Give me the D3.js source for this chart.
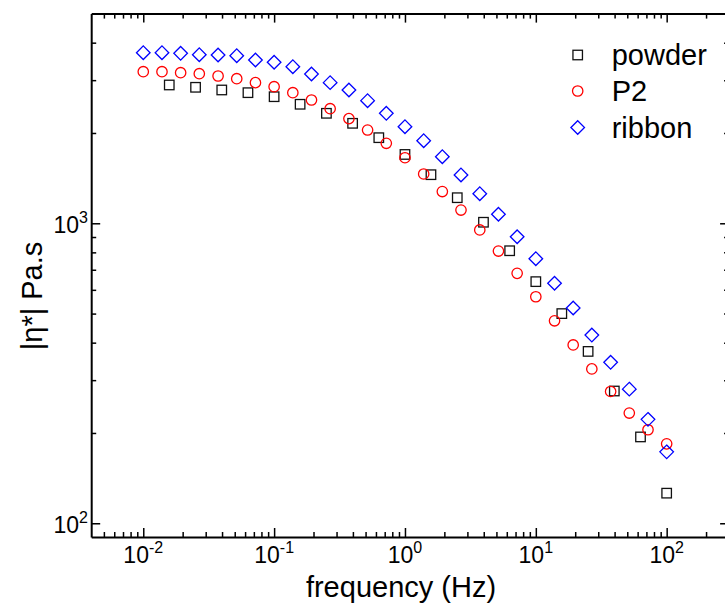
<!DOCTYPE html>
<html>
<head>
  <meta charset="utf-8">
  <script src="https://d3js.org/d3.v7.min.js"></script>
  <style>
    body { margin: 0; background: #fff; }
    svg { font-family: "Liberation Sans", Arial, sans-serif; }
  </style>
</head>
<body>
<div id="chart"></div>
<script>
  // frequencies (Hz) and |eta*| (Pa.s)
  var freqPowder = [0.0158, 0.0251, 0.0398, 0.0631, 0.1, 0.158, 0.251, 0.398, 0.631, 1,
                    1.58, 2.51, 3.98, 6.31, 10, 15.8, 25.1, 39.8, 63.1, 100];
  var etaPowder  = [2891, 2840, 2782, 2725, 2642, 2493, 2326, 2154, 1929, 1696,
                    1452, 1217, 1008, 810, 639, 500, 374, 276, 194, 126];

  var freqP2 = [0.01, 0.0139, 0.0193, 0.0268, 0.0373, 0.0518, 0.072, 0.1, 0.139, 0.193,
                0.268, 0.373, 0.518, 0.72, 1, 1.39, 1.93, 2.68, 3.73, 5.18,
                7.2, 10, 13.9, 19.3, 26.8, 37.3, 51.8, 72, 100];
  var etaP2  = [3201, 3201, 3177, 3152, 3097, 3034, 2943, 2853, 2725, 2576,
                2410, 2233, 2046, 1848, 1654, 1460, 1276, 1107, 950, 808,
                681, 569, 473, 393, 327, 275, 233, 205, 184];

  var freqRibbon = [0.01, 0.0139, 0.0193, 0.0268, 0.0373, 0.0518, 0.072, 0.1, 0.139, 0.193,
                    0.268, 0.373, 0.518, 0.72, 1, 1.39, 1.93, 2.68, 3.73, 5.18,
                    7.2, 10, 13.9, 19.3, 26.8, 37.3, 51.8, 72, 100];
  var etaRibbon  = [3704, 3704, 3687, 3648, 3639, 3620, 3502, 3441, 3327, 3145,
                    2943, 2782, 2563, 2326, 2099, 1885, 1667, 1449, 1255, 1072,
                    902, 762, 631, 522, 424, 344, 280, 222, 173];

  var seriesNames = ["powder", "P2", "ribbon"];
  var xMajor = [0.01, 0.1, 1, 10, 100];
  var xExp = ["-2", "-1", "0", "1", "2"];
  var yMajor = [100, 1000];
  var yExp = ["2", "3"];

  var W = 725, H = 606;
  var pLeft = 91.2, pRight = 729.1, pTop = 13.6, pBottom = 537;

  var svg = d3.select("#chart").append("svg")
    .attr("width", W).attr("height", H);

  var x = d3.scaleLog().domain([0.004, 300]).range([pLeft, pRight]);
  var y = d3.scaleLog().domain([90, 5000]).range([pBottom, pTop]);

  // minor ticks 2..9 per decade inside the domain
  function minors(dom) {
    var out = [];
    for (var e = -4; e <= 4; e++) {
      for (var m = 2; m <= 9; m++) {
        var v = m * Math.pow(10, e);
        if (v > dom[0] && v < dom[1]) out.push(v);
      }
    }
    return out;
  }
  var xMinor = minors(x.domain());
  var yMinor = minors(y.domain());

  function styleAxis(g, keepDomain) {
    g.selectAll(".tick text").remove();
    g.selectAll(".tick line").attr("stroke", "#000").attr("stroke-width", 1.5);
    if (keepDomain) g.select(".domain").attr("stroke", "#000").attr("stroke-width", 2);
    else g.select(".domain").remove();
  }

  function addAxis(axisFn, transform, scale, major, minor) {
    var gMaj = svg.append("g").attr("transform", transform)
      .call(axisFn(scale).tickValues(major).tickSizeInner(-9).tickSizeOuter(0));
    styleAxis(gMaj, true);
    var gMin = svg.append("g").attr("transform", transform)
      .call(axisFn(scale).tickValues(minor).tickSizeInner(-5).tickSizeOuter(0));
    styleAxis(gMin, false);
  }

  addAxis(d3.axisBottom, "translate(0," + pBottom + ")", x, xMajor, xMinor);
  addAxis(d3.axisTop, "translate(0," + pTop + ")", x, xMajor, xMinor);
  addAxis(d3.axisLeft, "translate(" + pLeft + ",0)", y, yMajor, yMinor);
  addAxis(d3.axisRight, "translate(" + pRight + ",0)", y, yMajor, yMinor);

  // tick labels with superscripts
  var xl = svg.selectAll(".xlab").data(xMajor).enter().append("text")
    .attr("class", "xlab")
    .attr("x", function(d) { return x(d); })
    .attr("y", 562.5)
    .attr("text-anchor", "middle")
    .style("font-size", "23px");
  xl.append("tspan").text("10");
  xl.append("tspan").attr("dy", -10).style("font-size", "16px")
    .text(function(d, i) { return xExp[i]; });

  var yl = svg.selectAll(".ylab").data(yMajor).enter().append("text")
    .attr("class", "ylab")
    .attr("x", 88)
    .attr("y", function(d) { return y(d) + 9.5; })
    .attr("text-anchor", "end")
    .style("font-size", "23px");
  yl.append("tspan").text("10");
  yl.append("tspan").attr("dy", -10).style("font-size", "16px")
    .text(function(d, i) { return yExp[i]; });

  // axis titles
  svg.append("text")
    .attr("x", 401).attr("y", 597)
    .attr("text-anchor", "middle")
    .style("font-size", "29px")
    .text("frequency (Hz)");

  svg.append("text")
    .attr("transform", "translate(41.7,296) rotate(-90)")
    .attr("text-anchor", "middle")
    .style("font-size", "29px")
    .text("|η*| Pa.s");

  // markers
  var sq = 9.5, cr = 5.2, dm = 6.8;
  function drawSquare(sel) {
    sel.append("rect").attr("x", -sq / 2).attr("y", -sq / 2)
      .attr("width", sq).attr("height", sq)
      .attr("fill", "none").attr("stroke", "#111").attr("stroke-width", 1.3);
  }
  function drawCircle(sel) {
    sel.append("circle").attr("r", cr)
      .attr("fill", "none").attr("stroke", "#ff0000").attr("stroke-width", 1.3);
  }
  function drawDiamond(sel) {
    sel.append("path").attr("d", "M0," + (-dm) + "L" + dm + ",0L0," + dm + "L" + (-dm) + ",0Z")
      .attr("fill", "none").attr("stroke", "#0000ff").attr("stroke-width", 1.3);
  }

  var series = [
    { f: freqPowder, v: etaPowder, draw: drawSquare },
    { f: freqP2, v: etaP2, draw: drawCircle },
    { f: freqRibbon, v: etaRibbon, draw: drawDiamond }
  ];

  series.forEach(function(s) {
    var pts = svg.append("g").selectAll("g").data(s.f).enter().append("g")
      .attr("transform", function(d, i) { return "translate(" + x(d) + "," + y(s.v[i]) + ")"; });
    s.draw(pts);
  });

  // legend
  var legY = [55, 91, 127.5];
  series.forEach(function(s, i) {
    var g = svg.append("g").attr("transform", "translate(577.7," + legY[i] + ")");
    s.draw(g);
    svg.append("text")
      .attr("x", 611.7).attr("y", legY[i] + 10)
      .style("font-size", "29px")
      .text(seriesNames[i]);
  });
</script>
</body>
</html>
